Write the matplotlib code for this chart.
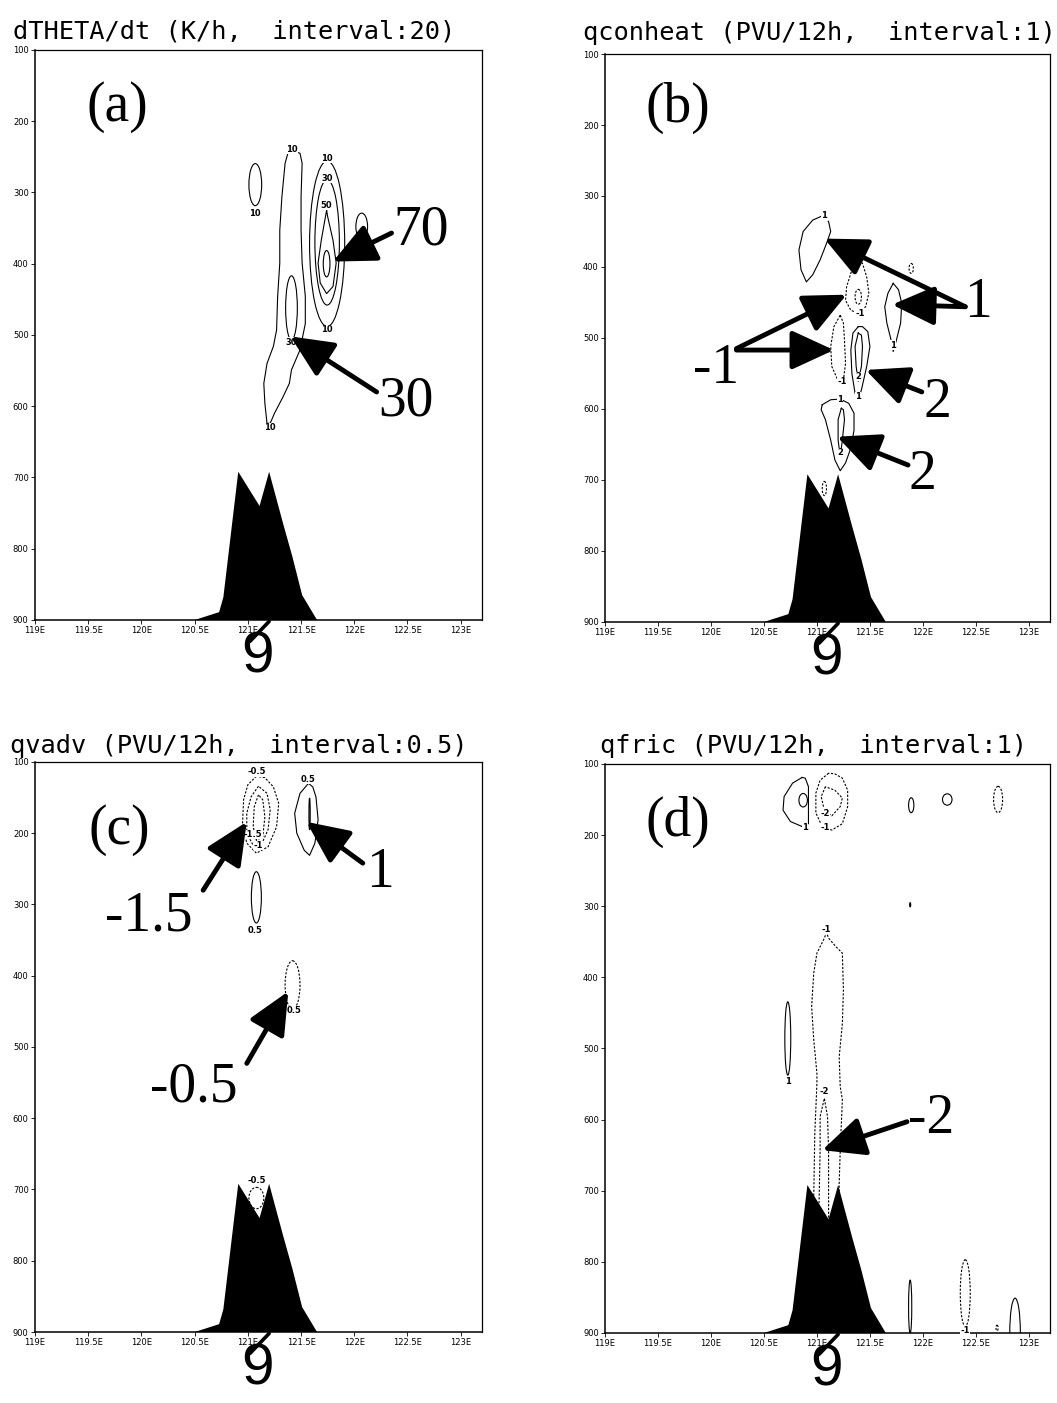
import matplotlib.pyplot as plt
from matplotlib.patches import Ellipse

plt.rcParams['font.family'] = 'DejaVu Sans'

# ---------------- data ----------------
LON_TICKS = [119, 119.5, 120, 120.5, 121, 121.5, 122, 122.5, 123]
LON_LABELS = ['119E', '119.5E', '120E', '120.5E', '121E', '121.5E', '122E', '122.5E', '123E']
P_TICKS = [100, 200, 300, 400, 500, 600, 700, 800, 900]

# terrain cross-section (lon, hPa)
TERRAIN_LON = [120.50, 120.73, 120.77, 120.91, 121.11, 121.20, 121.33, 121.42, 121.51, 121.65]
TERRAIN_P = [900, 889, 868, 692, 740, 692, 764, 812, 865, 900]

TITLES = ['dTHETA/dt (K/h,  interval:20)', 'qconheat (PVU/12h,  interval:1)',
          'qvadv (PVU/12h,  interval:0.5)', 'qfric (PVU/12h,  interval:1)']
PANEL_TAGS = ['(a)', '(b)', '(c)', '(d)']
TAG_POS = [(119.77, 180), (119.69, 176), (119.79, 195), (119.69, 181)]

# ---- (a) dTHETA/dt ----
A10_LEFT = [(121.41, 241), (121.49, 245), (121.51, 259), (121.50, 306), (121.50, 353), (121.51, 399),
            (121.54, 446), (121.54, 484), (121.49, 521), (121.41, 549), (121.39, 568), (121.33, 587),
            (121.25, 610), (121.21, 624), (121.18, 624), (121.16, 596), (121.15, 568), (121.18, 540),
            (121.24, 516), (121.27, 493), (121.28, 446), (121.30, 399), (121.30, 353), (121.32, 306),
            (121.35, 259), (121.38, 243), (121.41, 241)]
A50 = [(121.74, 325), (121.69, 367), (121.66, 399), (121.68, 427), (121.74, 442), (121.80, 432),
       (121.83, 399), (121.80, 367), (121.75, 334), (121.74, 325)]
A_SOLID = [A10_LEFT, A50]
A_DASHED = []
A_OVAL_SOLID = [(121.07, 289, 0.12, 59), (122.07, 348, 0.11, 38), (121.745, 372, 0.33, 232),
                (121.745, 370, 0.23, 176), (121.74, 400, 0.063, 37), (121.41, 462, 0.11, 90)]
A_OVAL_DASHED = []
A_LABELS = [('10', 121.07, 329), ('10', 121.41, 240), ('10', 121.21, 630), ('10', 121.745, 252),
            ('30', 121.745, 280), ('50', 121.74, 318), ('10', 121.745, 492), ('30', 121.41, 510)]
A_ARROWS = [((122.35, 357), (121.80, 397)), ((122.21, 580), (121.40, 502))]
A_TEXT = [('70', 122.63, 353), ('30', 122.49, 594)]

# ---- (b) qconheat ----
B1_TOPLEFT = [(121.05, 328), (120.96, 334), (120.87, 350), (120.83, 376), (120.85, 404), (120.90, 421),
              (120.96, 411), (121.03, 390), (121.09, 367), (121.13, 350), (121.11, 336), (121.05, 328)]
B1_RIGHT = [(121.72, 423), (121.67, 437), (121.64, 456), (121.66, 479), (121.70, 503), (121.72, 519),
            (121.75, 503), (121.79, 479), (121.80, 451), (121.77, 432), (121.72, 423)]
B1_MID = [(121.39, 484), (121.34, 493), (121.32, 517), (121.33, 550), (121.36, 578), (121.39, 587),
          (121.42, 573), (121.47, 540), (121.50, 512), (121.48, 491), (121.43, 484), (121.39, 484)]
B2_MID = [(121.39, 493), (121.36, 512), (121.37, 540), (121.39, 561), (121.42, 540), (121.43, 512),
          (121.42, 496), (121.39, 493)]
B1_LOW = [(121.05, 594), (121.13, 587), (121.22, 586), (121.30, 592), (121.35, 606), (121.35, 630),
          (121.32, 655), (121.27, 676), (121.22, 687), (121.17, 672), (121.13, 644), (121.08, 615),
          (121.04, 601), (121.05, 594)]
B2_LOW = [(121.23, 599), (121.20, 615), (121.20, 644), (121.22, 667), (121.24, 644), (121.26, 615),
          (121.25, 601), (121.23, 599)]
BM1_UPPER = [(121.39, 388), (121.33, 404), (121.28, 428), (121.27, 447), (121.32, 461), (121.39, 465),
             (121.46, 456), (121.49, 437), (121.47, 414), (121.43, 395), (121.39, 388)]
BM1_MID = [(121.22, 468), (121.16, 484), (121.13, 512), (121.14, 540), (121.19, 557), (121.25, 559),
           (121.27, 536), (121.26, 503), (121.25, 479), (121.22, 468)]
B_SOLID = [B1_TOPLEFT, B1_RIGHT, B1_MID, B2_MID, B1_LOW, B2_LOW]
B_DASHED = [BM1_UPPER, BM1_MID]
B_OVAL_SOLID = []
B_OVAL_DASHED = [(121.39, 442, 0.06, 21), (121.89, 402, 0.04, 14), (121.07, 712, 0.04, 20)]
B_LABELS = [('1', 121.07, 328), ('-1', 121.41, 465), ('1', 121.72, 510), ('-1', 121.24, 561),
            ('2', 121.39, 554), ('1', 121.39, 583), ('1', 121.22, 586), ('2', 121.22, 662)]
B_ARROWS = [((122.40, 456), (121.07, 360)), ((122.40, 456), (121.71, 453)),
            ((120.24, 515), (121.28, 439)), ((120.24, 517), (121.16, 517)),
            ((121.99, 576), (121.46, 545)), ((121.86, 679), (121.19, 639))]
B_TEXT = [('1', 122.52, 451), ('-1', 120.05, 543), ('2', 122.14, 592), ('2', 122.0, 693)]

# ---- (c) qvadv ----
CM05_OUTER = [(121.08, 120), (121.00, 132), (120.96, 153), (120.95, 186), (120.99, 214), (121.08, 228),
              (121.19, 219), (121.27, 191), (121.29, 158), (121.24, 135), (121.16, 122), (121.08, 120)]
CM1 = [(121.10, 134), (121.03, 149), (120.99, 172), (120.99, 200), (121.05, 217), (121.13, 215),
       (121.19, 195), (121.21, 167), (121.18, 144), (121.10, 134)]
CM15 = [(121.10, 146), (121.06, 163), (121.05, 191), (121.08, 210), (121.14, 205), (121.16, 177),
        (121.14, 153), (121.10, 146)]
C05_RIGHT = [(121.57, 130), (121.49, 144), (121.44, 172), (121.46, 200), (121.53, 224), (121.58, 231),
             (121.63, 214), (121.66, 181), (121.64, 149), (121.61, 135), (121.57, 130)]
C_SOLID = [C05_RIGHT]
C_DASHED = [CM05_OUTER, CM1, CM15]
C_OVAL_SOLID = [(121.08, 290, 0.094, 72), (121.58, 173, 0.012, 45)]
C_OVAL_DASHED = [(121.42, 413, 0.14, 68), (121.08, 712, 0.14, 30)]
C_LABELS = [('-0.5', 121.08, 114), ('-1.5', 121.05, 202), ('-1', 121.10, 217), ('0.5', 121.57, 124),
            ('0.5', 121.07, 336), ('0.5', 121.43, 449), ('-0.5', 121.08, 688)]
C_ARROWS = [((120.58, 280), (120.99, 184)), ((122.08, 242), (121.55, 184)),
            ((120.99, 523), (121.38, 422))]
C_TEXT = [('-1.5', 120.07, 317), ('1', 122.24, 256), ('-0.5', 120.49, 557)]

# ---- (d) qfric ----
D1_TOP = [(120.86, 119), (120.77, 127), (120.69, 146), (120.68, 165), (120.75, 181), (120.86, 188),
          (120.92, 184), (120.92, 155), (120.92, 132), (120.89, 120), (120.86, 119)]
DM1_TOP = [(121.11, 113), (121.03, 123), (120.99, 141), (120.99, 169), (121.05, 188), (121.14, 193),
           (121.24, 184), (121.29, 160), (121.29, 137), (121.24, 120), (121.17, 114), (121.11, 113)]
DM2_TOP = [(121.08, 132), (121.04, 146), (121.07, 165), (121.14, 173), (121.22, 160), (121.24, 148),
           (121.17, 137), (121.08, 132)]
DM1_LONG = [(120.98, 760), (120.97, 708), (120.98, 619), (121.00, 549), (121.00, 535), (120.97, 488),
            (120.95, 441), (120.97, 394), (121.00, 366), (121.07, 345), (121.09, 337), (121.11, 345),
            (121.18, 357), (121.24, 366), (121.25, 418), (121.24, 465), (121.21, 512), (121.22, 554),
            (121.24, 572), (121.22, 643), (121.21, 690), (121.21, 760)]
DM2_LONG = [(121.02, 760), (121.02, 718), (121.03, 643), (121.03, 596), (121.07, 570), (121.10, 596),
            (121.11, 643), (121.11, 722), (121.11, 760)]
D_SOLID = [D1_TOP]
D_DASHED = [DM1_TOP, DM2_TOP]
D_OPEN_DASHED = [DM1_LONG, DM2_LONG]
D_OVAL_SOLID = [(120.87, 151, 0.08, 19), (121.89, 158, 0.05, 21), (122.23, 150, 0.09, 16),
                (121.88, 298, 0.01, 6), (120.725, 486, 0.056, 103), (121.88, 863, 0.03, 75),
                (122.87, 900, 0.10, 98)]
D_OVAL_DASHED = [(122.71, 150, 0.085, 37), (122.40, 844, 0.094, 94), (122.70, 893, 0.02, 8)]
D_LABELS = [('1', 120.89, 190), ('-2', 121.08, 169), ('-1', 121.08, 190), ('-1', 121.09, 333),
            ('1', 120.73, 547), ('-2', 121.07, 561), ('-1', 122.40, 896)]
D_ARROWS = [((121.85, 603), (121.05, 643))]
D_TEXT = [('-2', 122.08, 599)]

# axes positions in figure fraction
AX_POS = [[0.0331, 0.5581, 0.4229, 0.4063], [0.5724, 0.5567, 0.4210, 0.4048],
          [0.0331, 0.0506, 0.4229, 0.4063], [0.5724, 0.0499, 0.4210, 0.4056]]
TITLE_POS = [(0.0123, 0.9729), (0.5516, 0.9715), (0.0095, 0.4633), (0.5676, 0.4633)]

PANELS = [
    (A_SOLID, A_DASHED, [], A_OVAL_SOLID, A_OVAL_DASHED, A_LABELS, A_ARROWS, A_TEXT),
    (B_SOLID, B_DASHED, [], B_OVAL_SOLID, B_OVAL_DASHED, B_LABELS, B_ARROWS, B_TEXT),
    (C_SOLID, C_DASHED, [], C_OVAL_SOLID, C_OVAL_DASHED, C_LABELS, C_ARROWS, C_TEXT),
    (D_SOLID, D_DASHED, D_OPEN_DASHED, D_OVAL_SOLID, D_OVAL_DASHED, D_LABELS, D_ARROWS, D_TEXT),
]

DASH = (0, (2.0, 1.4))
SERIF = 'Liberation Serif'

fig = plt.figure(figsize=(10.57, 14.03), dpi=100)

for i, (solid, dashed, open_dashed, ov_s, ov_d, labels, arrows, texts) in enumerate(PANELS):
    ax = fig.add_axes(AX_POS[i])
    ax.set_xlim(119, 123.2)
    ax.set_ylim(900, 100)
    ax.set_xticks(LON_TICKS)
    ax.set_xticklabels(LON_LABELS)
    ax.set_yticks(P_TICKS)
    ax.tick_params(labelsize=6, length=3, width=0.6, pad=1.5)
    for sp in ['top', 'right']:
        ax.spines[sp].set_linewidth(0.9)
    for sp in ['left', 'bottom']:
        ax.spines[sp].set_linewidth(1.1)

    # contour lines
    for line in solid:
        ax.plot([q[0] for q in line], [q[1] for q in line], color='k', lw=0.8, zorder=2)
    for line in dashed + open_dashed:
        ax.plot([q[0] for q in line], [q[1] for q in line], color='k', lw=0.8, ls=DASH, zorder=2)
    for (x0, y0, w, h) in ov_s:
        ax.add_patch(Ellipse((x0, y0), w, h, fill=False, ec='k', lw=0.8, zorder=2))
    for (x0, y0, w, h) in ov_d:
        ax.add_patch(Ellipse((x0, y0), w, h, fill=False, ec='k', lw=0.8, ls=DASH, zorder=2))
    for s, x0, y0 in labels:
        ax.text(x0, y0, s, fontsize=6, fontweight='bold', ha='center', va='center', zorder=3,
                bbox=dict(fc='white', ec='none', pad=0.2))

    # terrain
    ax.fill(TERRAIN_LON, TERRAIN_P, color='k', lw=0, zorder=4)

    # typhoon symbol below the axis
    ax.plot([121.20, 121.02], [902, 930], color='k', lw=2.6, solid_capstyle='round',
            clip_on=False, zorder=5)
    ax.text(121.09, 974, '9', fontsize=42, family='Liberation Sans', ha='center', va='baseline',
            clip_on=False, zorder=5)

    # annotation arrows and numbers
    for tail, tip in arrows:
        ax.annotate('', xy=tip, xytext=tail, annotation_clip=False, zorder=6,
                    arrowprops=dict(arrowstyle='-|>,head_length=1.3,head_width=0.6',
                                    mutation_scale=20, lw=3.5, color='k', shrinkA=0, shrinkB=0))
    for s, x0, y0 in texts:
        ax.text(x0, y0, s, fontsize=40, family=SERIF, ha='center', va='center', zorder=6)

    ax.text(TAG_POS[i][0], TAG_POS[i][1], PANEL_TAGS[i], fontsize=40, family=SERIF,
            ha='center', va='center', zorder=6)

    fig.text(TITLE_POS[i][0], TITLE_POS[i][1], TITLES[i], fontsize=18.3,
             family='DejaVu Sans Mono', ha='left', va='baseline')

fig.savefig('out.png', dpi=100, facecolor='white')
